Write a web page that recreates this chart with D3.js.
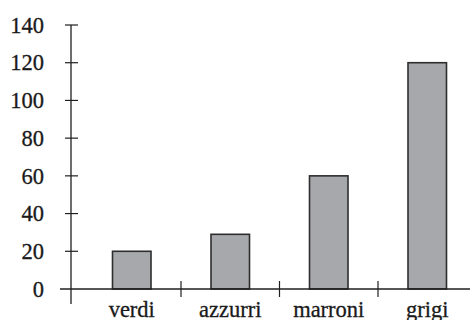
<!DOCTYPE html>
<html>
<head>
<meta charset="utf-8">
<script src="https://cdn.jsdelivr.net/npm/d3@7"></script>
<style>
  html, body { margin: 0; padding: 0; background: #fff; }
  svg { display: block; }
</style>
</head>
<body>
<svg id="chart" width="470" height="320"></svg>
<script>
// Eye colours and counts
const categories = ["verdi", "azzurri", "marroni", "grigi"];
const values = [20, 29, 60, 120];
const yTicks = [0, 20, 40, 60, 80, 100, 120, 140];

const svg = d3.select("#chart");
const ink = "#1f1f1f";
const font = "Liberation Serif";

const x = d3.scaleBand()
  .domain(categories)
  .range([82.5, 476.5])
  .paddingInner(0)
  .paddingOuter(0);

const y = d3.scaleLinear()
  .domain([0, 140])
  .range([289, 25]);

const barW = 38.5;

// Bars
svg.append("g")
  .selectAll("rect")
  .data(categories.map((c, i) => ({ c, v: values[i] })))
  .join("rect")
  .attr("x", d => x(d.c) + x.bandwidth() / 2 - barW / 2)
  .attr("y", d => y(d.v))
  .attr("width", barW)
  .attr("height", d => y(0) - y(d.v))
  .attr("fill", "#a7a8ab")
  .attr("stroke", "#2e2e2e")
  .attr("stroke-width", 1.6);

// X axis line
svg.append("line")
  .attr("x1", 60).attr("x2", 470)
  .attr("y1", y(0)).attr("y2", y(0))
  .attr("stroke", ink).attr("stroke-width", 1.3);

// Category separator ticks between bands
svg.append("g")
  .selectAll("line")
  .data(categories.slice(1))
  .join("line")
  .attr("x1", d => x(d)).attr("x2", d => x(d))
  .attr("y1", y(0) - 8).attr("y2", y(0) + 8)
  .attr("stroke", ink).attr("stroke-width", 1.2);

// Category labels
svg.append("g")
  .selectAll("text")
  .data(categories)
  .join("text")
  .attr("x", d => x(d) + x.bandwidth() / 2)
  .attr("y", 316.5)
  .attr("text-anchor", "middle")
  .attr("font-family", font)
  .attr("font-size", 22.5)
  .attr("fill", "#1a1a1a")
  .attr("stroke", "#1a1a1a")
  .attr("stroke-width", 0.3)
  .text(d => d);

// Y axis line
const axisX = 71;
svg.append("line")
  .attr("x1", axisX).attr("x2", axisX)
  .attr("y1", y(140)).attr("y2", 304)
  .attr("stroke", ink).attr("stroke-width", 1.3);

// Y ticks crossing the axis
svg.append("g")
  .selectAll("line")
  .data(yTicks.filter(t => t > 0))
  .join("line")
  .attr("x1", axisX - 6).attr("x2", axisX + 7)
  .attr("y1", d => y(d)).attr("y2", d => y(d))
  .attr("stroke", ink).attr("stroke-width", 1.2);

// Y tick labels
svg.append("g")
  .selectAll("text")
  .data(yTicks)
  .join("text")
  .attr("x", 44)
  .attr("y", d => y(d))
  .attr("dy", "0.34em")
  .attr("text-anchor", "end")
  .attr("font-family", font)
  .attr("font-size", 22.5)
  .attr("fill", "#1a1a1a")
  .attr("stroke", "#1a1a1a")
  .attr("stroke-width", 0.3)
  .text(d => d);
</script>
</body>
</html>
